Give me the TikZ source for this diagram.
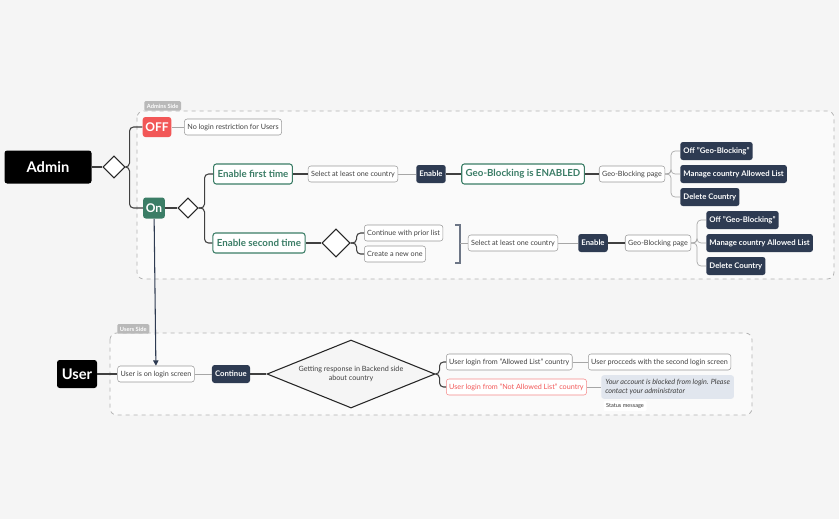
\documentclass[tikz,border=0pt]{standalone}
\usepackage{fontspec}
\setmainfont{Lato}
\usetikzlibrary{shapes.geometric,arrows.meta}
\definecolor{bgc}{HTML}{F5F5F5}
\definecolor{darkbox}{HTML}{2E3B52}
\definecolor{greenc}{HTML}{3B7D66}
\definecolor{redc}{HTML}{F25757}
\definecolor{msgc}{HTML}{E1E6EE}
\tikzset{
  plain/.style={draw=gray!80, fill=white, rounded corners=2pt, font=\fontsize{5.4}{6}\selectfont, text=black!75, inner sep=2.2pt, minimum height=16*0.75pt},
  dark/.style={fill=darkbox, rounded corners=2pt, font=\fontsize{5.8}{6}\selectfont\bfseries, text=white, inner sep=2.4pt, minimum height=18*0.75pt},
  green/.style={draw=greenc, line width=0.8pt, fill=white, rounded corners=2pt, font=\fontsize{7.3}{8}\selectfont\bfseries, text=greenc, inner sep=3pt, minimum height=20*0.75pt},
  black box/.style={fill=black, rounded corners=2pt, font=\fontsize{11}{12}\selectfont\bfseries, text=white},
  gate/.style={diamond, draw=black!85, line width=0.8pt, fill=white, inner sep=0pt, minimum width=#1*0.75pt, minimum height=#1*0.75pt},
  link/.style={draw=black!75, line width=0.8pt, rounded corners=3pt},
  thin link/.style={draw=gray!70, line width=0.5pt, rounded corners=3pt},
  area/.style={draw=gray!60, dashed, line width=0.6pt, rounded corners=5pt, fill=black!2},
  tab/.style={fill=gray!55, text=white, font=\fontsize{4.3}{5}\selectfont\bfseries, rounded corners=1pt, inner sep=2pt, anchor=south west},
}
\begin{document}
\begin{tikzpicture}[x=0.75pt,y=-0.75pt]
\fill[bgc] (0,0) rectangle (839,519);
\useasboundingbox (0,0) rectangle (839,519);

% side areas
\draw[area] (137,111) rectangle (834,279);
\node[tab] (admintab) at (144,111) {Admins Side};
\draw[area] (110,333) rectangle (752,415);
\node[tab] (usertab) at (117,334) {Users Side};

% admin side
\node[black box, minimum width=87*0.75pt, minimum height=33*0.75pt] (admin) at (48,167) {Admin};
\node[gate=22] (d0) at (114,167) {};
\node[fill=redc, rounded corners=2pt, text=white, font=\fontsize{9}{10}\selectfont\bfseries, inner sep=2pt, minimum height=20*0.75pt] (off) at (157,127) {OFF};
\node[plain] (norestrict) at (233,127) {No login restriction for Users};
\node[fill=greenc, rounded corners=2pt, text=white, font=\fontsize{9}{10}\selectfont\bfseries, inner sep=2pt, minimum height=21*0.75pt] (on) at (154,208) {On};
\node[gate=20] (d1) at (188,208) {};

\node[green] (first) at (253,174) {Enable first time};
\node[plain] (sel1) at (353,174) {Select at least one country};
\node[dark] (en1) at (431,174) {Enable};
\node[green] (enabled) at (523,174) {Geo-Blocking is ENABLED};
\node[plain] (page1) at (632,174) {Geo-Blocking page};
\node[dark, anchor=west] (offgb1) at (680,151) {Off "Geo-Blocking"};
\node[dark, anchor=west] (manage1) at (680,174) {Manage country Allowed List};
\node[dark, anchor=west] (del1) at (680,197) {Delete Country};

\node[green] (second) at (259,243) {Enable second time};
\node[gate=28] (d2) at (336,243) {};
\node[plain, anchor=west] (prior) at (364,233) {Continue with prior list};
\node[plain, anchor=west] (newone) at (364,254) {Create a new one};
\node[plain] (sel2) at (513,243) {Select at least one country};
\node[dark] (en2) at (593,243) {Enable};
\node[plain] (page2) at (658,243) {Geo-Blocking page};
\node[dark, anchor=west] (offgb2) at (706,220) {Off "Geo-Blocking"};
\node[dark, anchor=west] (manage2) at (706,243) {Manage country Allowed List};
\node[dark, anchor=west] (del2) at (706,266) {Delete Country};

\draw[link] (admin) -- (d0);
\draw[link] (d0.east) -- ++(4,0) |- (off);
\draw[link] (d0.east) -- ++(4,0) |- (on);
\draw[thin link] (off) -- (norestrict);
\draw[link] (on) -- (d1);
\draw[link] (d1.east) -- ++(6,0) |- (first);
\draw[link] (d1.east) -- ++(6,0) |- (second);
\draw[link] (first) -- (sel1);
\draw[thin link] (sel1) -- (en1);
\draw[link] (en1) -- (enabled);
\draw[link] (enabled) -- (page1);
\foreach \t in {offgb1,manage1,del1} \draw[thin link] (page1.east) -- ++(6,0) |- (\t.west);
\draw[link] (second) -- (d2);
\draw[link] (d2.east) -- ++(6,0) |- (prior.west);
\draw[link] (d2.east) -- ++(6,0) |- (newone.west);
\draw[draw=darkbox!70, line width=0.8pt] (455,225) -- (460,225) -- (460,263) -- (455,263);
\coordinate (brace) at (460,243);
\draw[thin link] (brace) -- (sel2);
\draw[thin link] (sel2) -- (en2);
\draw[link] (en2) -- (page2);
\foreach \t in {offgb2,manage2,del2} \draw[thin link] (page2.east) -- ++(6,0) |- (\t.west);

% user side
\node[black box, minimum width=40*0.75pt, minimum height=28*0.75pt] (user) at (77,374) {User};
\node[plain] (login) at (156,374) {User is on login screen};
\node[dark] (cont) at (231,374) {Continue};
\node[diamond, draw=black!85, line width=0.8pt, fill=bgc, aspect=2.5, inner sep=0pt, minimum width=168*0.75pt, minimum height=68*0.75pt, align=center, font=\fontsize{5.4}{6.5}\selectfont, text=black!75] (resp) at (351,374) {Getting response in Backend side\\about country};
\node[plain, anchor=west] (allowed) at (446,362) {User login from "Allowed List" country};
\node[plain, anchor=west, draw=redc!70, text=redc] (blocked) at (446,387) {User login from "Not Allowed List" country};
\node[plain, anchor=west] (proceed) at (588,362) {User procceds with the second login screen};
\node[fill=msgc, rounded corners=2pt, anchor=west, align=left, font=\fontsize{5.4}{6.8}\selectfont\itshape, text=black!75, inner sep=3pt] (msg) at (601,387) {Your account is blocked from login. Please\\contact your administrator};
\node[fill=white, rounded corners=1pt, font=\fontsize{4.2}{5}\selectfont, text=black!80, inner sep=2pt] (status) at (625,406) {Status message};

\draw[link] (user) -- (login);
\draw[thin link] (login) -- (cont);
\draw[link] (cont) -- (resp);
\draw[link] (resp.east) -- ++(4,0) |- (allowed.west);
\draw[link] (resp.east) -- ++(4,0) |- (blocked.west);
\draw[thin link] (allowed) -- (proceed);
\draw[thin link] (blocked) -- (msg);
\draw[draw=darkbox, line width=0.8pt, -{Triangle[length=4pt,width=4pt]}] (on) -- (login);
\end{tikzpicture}
\end{document}
